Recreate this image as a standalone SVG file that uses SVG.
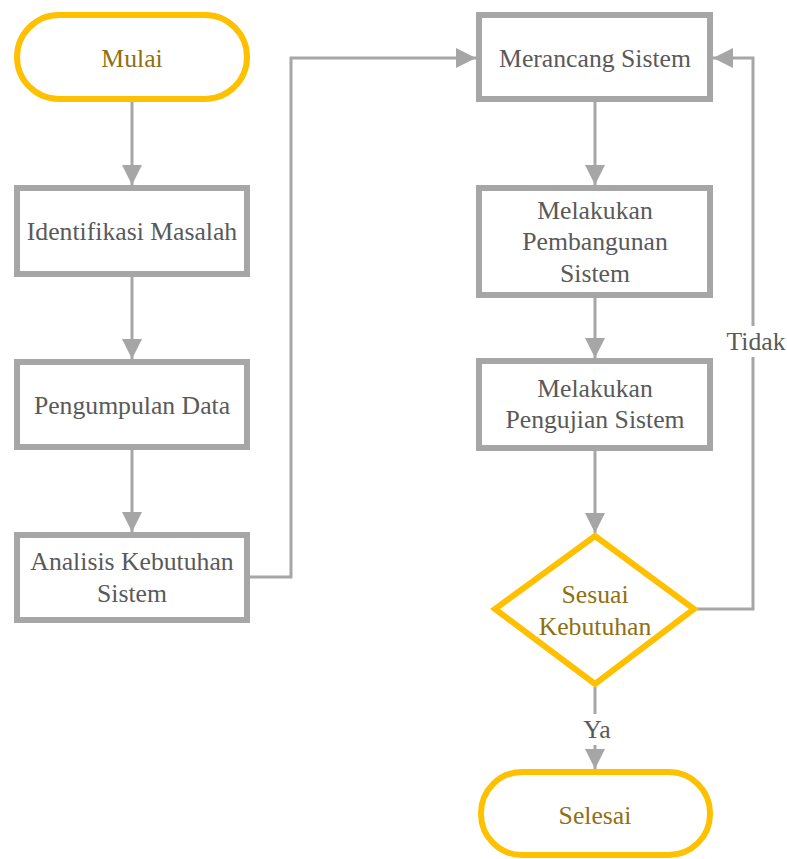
<svg xmlns="http://www.w3.org/2000/svg" width="787" height="859" viewBox="0 0 787 859">
<style>
.box{fill:#fff;stroke:#A6A6A6;stroke-width:6}
.term{fill:#fff;stroke:#FFC000;stroke-width:6}
.t{font-family:'Liberation Serif','Times New Roman','DejaVu Serif',serif;font-size:25.7px;text-anchor:middle;fill:#595959}
.to{font-family:'Liberation Serif','Times New Roman','DejaVu Serif',serif;font-size:25.7px;text-anchor:middle;fill:#8F6F12}
.c{fill:none;stroke:#A6A6A6;stroke-width:3}
</style>
<defs>
<marker id="ah" markerUnits="userSpaceOnUse" markerWidth="20" markerHeight="20" refX="20" refY="10" orient="auto">
<path d="M0,0 L20,10 L0,20 z" fill="#A6A6A6"/>
</marker>
</defs>
<rect width="787" height="859" fill="#fff"/>
<g id="connectors">
<path class="c" d="M132,102 V185" marker-end="url(#ah)"/>
<path class="c" d="M132,277 V359" marker-end="url(#ah)"/>
<path class="c" d="M132,450 V532" marker-end="url(#ah)"/>
<path class="c" d="M250,577 H291 V58 H476" marker-end="url(#ah)"/>
<path class="c" d="M595,102 V185" marker-end="url(#ah)"/>
<path class="c" d="M595,298 V358" marker-end="url(#ah)"/>
<path class="c" d="M595,451 V533" marker-end="url(#ah)"/>
<path class="c" d="M697,609 H753 V58 H713" marker-end="url(#ah)"/>
<path class="c" d="M595,687 V769" marker-end="url(#ah)"/>
<rect x="722" y="326" width="64" height="31" fill="#fff"/>
<text class="t" x="756" y="350">Tidak</text>
<rect x="578" y="714" width="38" height="31" fill="#fff"/>
<text class="t" x="597" y="738">Ya</text>
</g>
<g id="mulai">
<rect class="term" x="17" y="15" width="230" height="84" rx="42"/>
<text class="to" x="132" y="67">Mulai</text>
</g>
<g id="identifikasi">
<rect class="box" x="17" y="188" width="230" height="86"/>
<text class="t" x="132" y="240">Identifikasi Masalah</text>
</g>
<g id="pengumpulan">
<rect class="box" x="17" y="362" width="230" height="85"/>
<text class="t" x="132" y="414">Pengumpulan Data</text>
</g>
<g id="analisis">
<rect class="box" x="17" y="535" width="230" height="85"/>
<text class="t" x="132" y="570">Analisis Kebutuhan</text>
<text class="t" x="132" y="602">Sistem</text>
</g>
<g id="merancang">
<rect class="box" x="479" y="15" width="231" height="84"/>
<text class="t" x="595" y="67">Merancang Sistem</text>
</g>
<g id="pembangunan">
<rect class="box" x="479" y="188" width="231" height="107"/>
<text class="t" x="595" y="219">Melakukan</text>
<text class="t" x="595" y="250">Pembangunan</text>
<text class="t" x="595" y="282">Sistem</text>
</g>
<g id="pengujian">
<rect class="box" x="479" y="361" width="231" height="87"/>
<text class="t" x="595" y="397">Melakukan</text>
<text class="t" x="595" y="428">Pengujian Sistem</text>
</g>
<g id="sesuai">
<polygon class="term" points="595,536 694,609 595,684 495,609"/>
<text class="to" x="595" y="603">Sesuai</text>
<text class="to" x="595" y="635">Kebutuhan</text>
</g>
<g id="selesai">
<rect class="term" x="481" y="772" width="229" height="83" rx="41"/>
<text class="to" x="595" y="824">Selesai</text>
</g>
</svg>
